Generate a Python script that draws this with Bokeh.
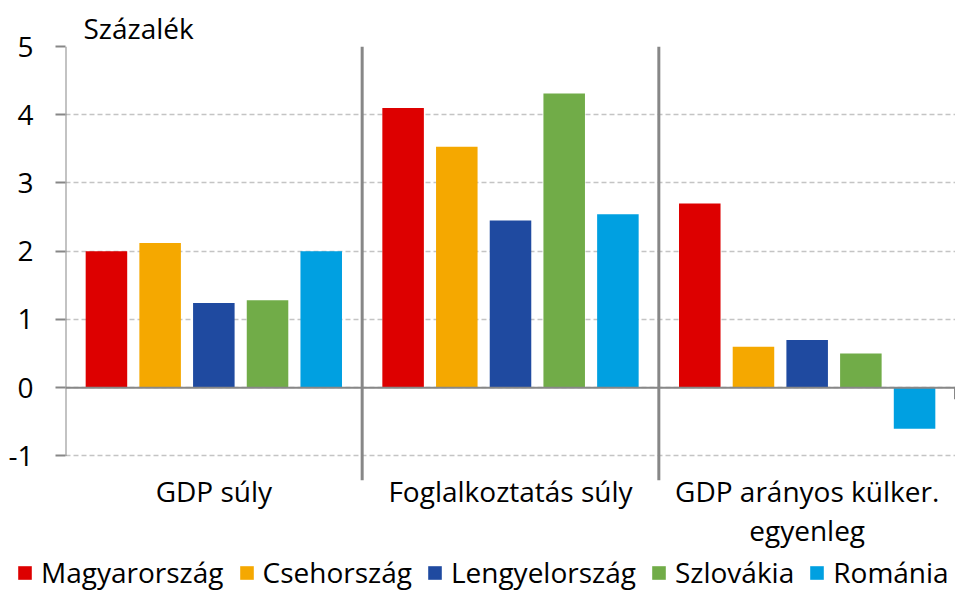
from bokeh.plotting import figure
from bokeh.layouts import column
from bokeh.models import FactorRange, Range1d, Span, Legend, LegendItem, FixedTicker, ColumnDataSource
from bokeh.transform import dodge
from bokeh.embed import file_html
from bokeh.resources import INLINE

groups = ["GDP súly", "Foglalkoztatás súly", "GDP arányos külker.\negyenleg"]
countries = ["Magyarország", "Csehország", "Lengyelország", "Szlovákia", "Románia"]
magyarorszag = [2.0, 4.1, 2.7]
csehorszag = [2.12, 3.53, 0.6]
lengyelorszag = [1.24, 2.45, 0.7]
szlovakia = [1.28, 4.31, 0.5]
romania = [2.0, 2.54, -0.6]
y_ticks = [-1, 0, 1, 2, 3, 4, 5]
colors = ["#DD0000", "#F5A800", "#1F4AA0", "#71AC48", "#00A0E1"]
y_title = "Százalék"

series = [magyarorszag, csehorszag, lengyelorszag, szlovakia, romania]
FONT = "Open Sans"
FS = "28px"
GRAY = "#878787"
Y_BOTTOM = -1.36

src = ColumnDataSource(dict(group=groups, **{f"s{i}": s for i, s in enumerate(series)}))

p = figure(width=955, height=552, output_backend="svg", toolbar_location=None,
           x_range=FactorRange(*groups, range_padding=0),
           y_range=Range1d(Y_BOTTOM, 5),
           min_border_left=65, min_border_right=0, min_border_top=46, min_border_bottom=40)
p.outline_line_color = None
p.frame_align = False

p.title.text = y_title
p.title.align = "left"
p.title.offset = 18
p.title.standoff = 0
p.title.text_font = FONT
p.title.text_font_size = FS
p.title.text_font_style = "normal"
p.title.text_color = "black"

pitch = 0.181
width = 0.14
for i, col in enumerate(colors):
    p.vbar(x=dodge("group", (i - 2) * pitch, range=p.x_range), top=f"s{i}", bottom=0,
           width=width, source=src, fill_color=col, line_color=None)

# grid
p.xgrid.grid_line_color = None
p.ygrid.ticker = FixedTicker(ticks=y_ticks)
p.ygrid.grid_line_color = "#C4C4C4"
p.ygrid.grid_line_width = 1.5
p.ygrid.grid_line_dash = "5 3"

# y axis
p.yaxis.ticker = FixedTicker(ticks=y_ticks)
p.yaxis.major_label_overrides = {t: f"{t}" for t in y_ticks}
p.yaxis.axis_line_color = None
p.yaxis.major_tick_line_color = GRAY
p.yaxis.major_tick_line_width = 2
p.yaxis.major_tick_out = 10
p.yaxis.major_tick_in = 0
p.yaxis.minor_tick_line_color = None
p.yaxis.major_label_standoff = 22
p.yaxis.major_label_text_font = FONT
p.yaxis.major_label_text_font_size = FS
p.yaxis.major_label_text_color = "black"

# x axis
p.xaxis.axis_line_color = None
p.xaxis.major_tick_line_color = None
p.xaxis.minor_tick_line_color = None
p.xaxis.major_label_standoff = -15
p.xaxis.major_label_text_font = FONT
p.xaxis.major_label_text_font_size = FS
p.xaxis.major_label_text_line_height = 1.05
p.xaxis.major_label_text_color = "black"

n = len(groups)
p.add_layout(Span(location=0, dimension="width", line_color=GRAY, line_width=2))
p.segment(x0=[0], y0=[y_ticks[0]], x1=[0], y1=[y_ticks[-1]], line_color=GRAY, line_width=2)
seps = list(range(1, n))
p.segment(x0=seps, y0=[y_ticks[-1]] * len(seps), x1=seps, y1=[Y_BOTTOM] * len(seps),
          line_color=GRAY, line_width=3)
p.segment(x0=[n], y0=[0], x1=[n], y1=[-0.17], line_color=GRAY, line_width=3)

# legend strip
pl = figure(width=955, height=40, output_backend="svg", toolbar_location=None,
            x_range=Range1d(0, 1), y_range=Range1d(0, 1),
            min_border_left=0, min_border_right=0, min_border_top=0, min_border_bottom=0)
pl.frame_align = False
pl.axis.visible = False
pl.grid.visible = False
pl.outline_line_color = None
items = []
for name, col in zip(countries, colors):
    # swatch-only renderer placed outside the visible range
    r = pl.vbar(x=[-5], top=[-5], bottom=[-6], width=1, fill_color=col, line_color=None)
    items.append(LegendItem(label=name, renderers=[r]))
legend = Legend(items=items, orientation="horizontal", location=(16, 1),
                glyph_width=17, glyph_height=17, label_standoff=8, spacing=14,
                padding=0, margin=0, border_line_color=None, background_fill_alpha=0,
                label_text_font=FONT, label_text_font_size=FS, label_text_color="black")
pl.add_layout(legend)

layout = column(p, pl, spacing=0)
open("out.html", "w").write(file_html(layout, INLINE))
